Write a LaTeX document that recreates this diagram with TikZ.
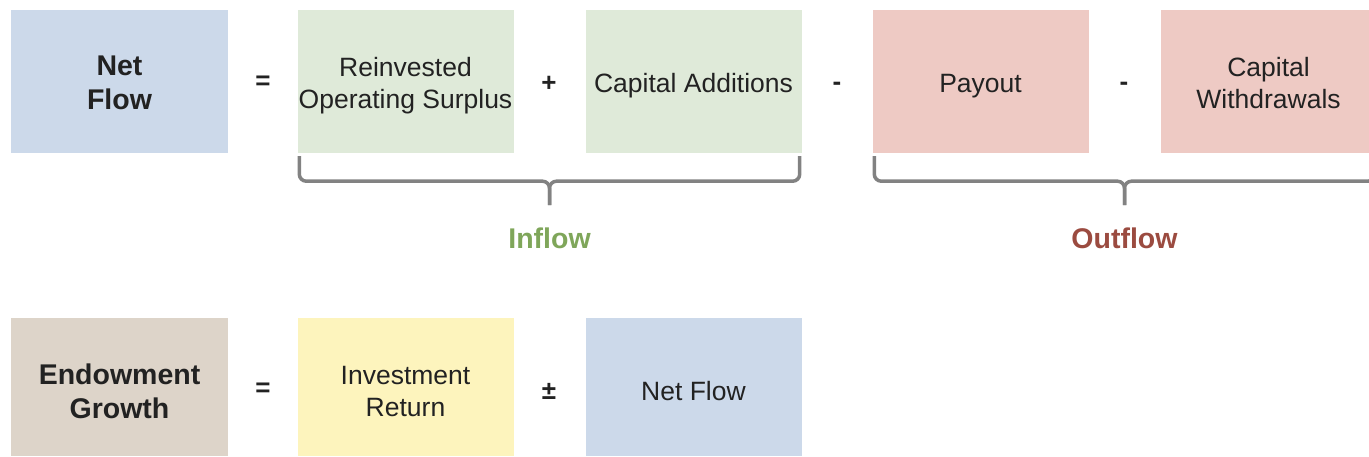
\documentclass[tikz,border=0pt]{standalone}
\usepackage{fontspec}
\setmainfont{Liberation Sans}
\usetikzlibrary{calc}
\definecolor{boxblue}{HTML}{CCD9EA}
\definecolor{boxgreen}{HTML}{DFEAD9}
\definecolor{boxpink}{HTML}{EECAC4}
\definecolor{boxtan}{HTML}{DDD4C9}
\definecolor{boxyellow}{HTML}{FDF4BD}
\definecolor{inkdark}{HTML}{222222}
\definecolor{inflowgreen}{HTML}{7FA65A}
\definecolor{outflowred}{HTML}{9B4B40}
\definecolor{bracegray}{HTML}{828282}
\tikzset{
  termbox/.style={rectangle, draw=none, minimum width=216pt, minimum height=143pt, inner sep=0pt},
  termtext/.style={align=center, text=inkdark, font=\fontsize{26.5}{32}\selectfont, inner sep=0pt},
  headtext/.style={termtext, font=\fontsize{28.5}{34}\selectfont\bfseries},
  opsign/.style={text=inkdark, font=\fontsize{26}{30}\selectfont\bfseries, inner sep=0pt},
  bracket/.style={draw=bracegray, line width=3.5pt, rounded corners=7pt},
  grouplabel/.style={font=\fontsize{28.5}{32}\selectfont\bfseries, inner sep=0pt}
}
\begin{document}
\begin{tikzpicture}[x=1pt,y=-1pt]
\useasboundingbox (0,0) rectangle (1369,457);
\clip (0,0) rectangle (1369,457);

% Net flow equation
\node[termbox, fill=boxblue, minimum width=217pt] (nf) at (119.5,81.5) {};
\node[headtext] (nft) at ($(nf.center)+(0,1)$) {Net\\Flow};
\node[opsign] (eq1) at (263,83) {=};
\node[termbox, fill=boxgreen] (ros) at (405.5,81.5) {};
\node[termtext] (rost) at ($(ros.center)+(0,4)$) {Reinvested\\Operating Surplus};
\node[opsign] (plus) at (549,84) {+};
\node[termbox, fill=boxgreen] (cap) at (693.5,81.5) {};
\node[termtext] (capt) at ($(cap.center)+(0,4)$) {Capital Additions};
\node[opsign] (min1) at (837,86) {-};
\node[termbox, fill=boxpink] (pay) at (980.5,81.5) {};
\node[termtext] (payt) at ($(pay.center)+(0,5)$) {Payout};
\node[opsign] (min2) at (1124,86) {-};
\node[termbox, fill=boxpink] (cw) at (1268.5,81.5) {};
\node[termtext] (cwt) at ($(cw.center)+(0,2)$) {Capital\\Withdrawals};

% Grouping brackets
\coordinate (intip) at ($(ros.south west)!0.5!(cap.south east)+(0,52)$);
\draw[bracket] ($(ros.south west)+(2,3)$) |- ($(intip)+(0,-24)$) -- (intip);
\draw[bracket] ($(cap.south east)+(-2,3)$) |- ($(intip)+(0,-24)$) -- (intip);
\node[grouplabel, text=inflowgreen] (inflow) at ($(intip)+(0,33)$) {Inflow};

\coordinate (outtip) at ($(pay.south west)!0.5!(cw.south east)+(0,52)$);
\draw[bracket] ($(pay.south west)+(2,3)$) |- ($(outtip)+(0,-24)$) -- (outtip);
\draw[bracket] ($(cw.south east)+(-2,3)$) |- ($(outtip)+(0,-24)$) -- (outtip);
\node[grouplabel, text=outflowred] (outflow) at ($(outtip)+(0,33)$) {Outflow};

% Endowment growth equation
\node[termbox, fill=boxtan, minimum width=217pt, minimum height=138pt] (eg) at (119.5,387) {};
\node[headtext] (egt) at ($(eg.center)+(0,4)$) {Endowment\\Growth};
\node[opsign] (eq2) at (263,390) {=};
\node[termbox, fill=boxyellow, minimum height=138pt] (ir) at (405.5,387) {};
\node[termtext] (irt) at ($(ir.center)+(0,5)$) {Investment\\Return};
\node[opsign] (pm) at (549,391) {±};
\node[termbox, fill=boxblue, minimum height=138pt] (nf2) at (693.5,387) {};
\node[termtext] (nf2t) at ($(nf2.center)+(0,4)$) {Net Flow};
\end{tikzpicture}
\end{document}
